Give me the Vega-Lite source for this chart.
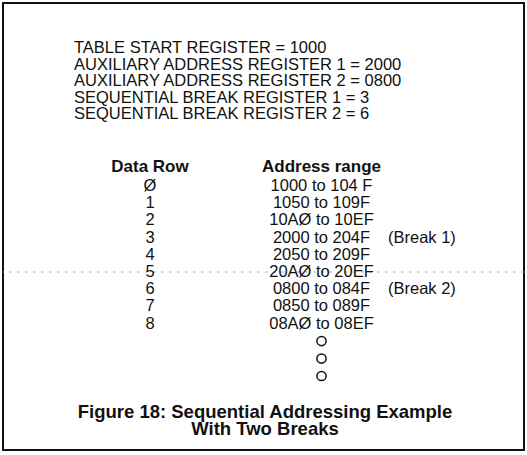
{
  "$schema": "https://vega.github.io/schema/vega-lite/v6.json",
  "width": 527,
  "height": 455,
  "autosize": {"type": "fit", "contains": "padding"},
  "padding": {"left": 2, "top": 3, "right": 2, "bottom": 5},
  "background": "white",
  "config": {
    "view": {"stroke": "#111", "strokeWidth": 2},
    "text": {"font": "Liberation Sans", "color": "#111"}
  },
  "data": {
    "values": [
      {"col": "reg", "tab": 0, "line": 0, "text": "TABLE START REGISTER = 1000"},
      {"col": "reg", "tab": 0, "line": 1, "text": "AUXILIARY ADDRESS REGISTER 1 = 2000"},
      {"col": "reg", "tab": 0, "line": 2, "text": "AUXILIARY ADDRESS REGISTER 2 = 0800"},
      {"col": "reg", "tab": 0, "line": 3, "text": "SEQUENTIAL BREAK REGISTER 1 = 3"},
      {"col": "reg", "tab": 0, "line": 4, "text": "SEQUENTIAL BREAK REGISTER 2 = 6"},
      {"col": "head", "tab": 1, "line": 5, "text": "Data Row"},
      {"col": "head", "tab": 3, "line": 5, "text": "Address range"},
      {"col": "row", "tab": 1, "line": 6, "text": "Ø"},
      {"col": "row", "tab": 1, "line": 7, "text": "1"},
      {"col": "row", "tab": 1, "line": 8, "text": "2"},
      {"col": "row", "tab": 1, "line": 9, "text": "3"},
      {"col": "row", "tab": 1, "line": 10, "text": "4"},
      {"col": "row", "tab": 1, "line": 11, "text": "5"},
      {"col": "row", "tab": 1, "line": 12, "text": "6"},
      {"col": "row", "tab": 1, "line": 13, "text": "7"},
      {"col": "row", "tab": 1, "line": 14, "text": "8"},
      {"col": "range", "tab": 3, "line": 6, "text": "1000 to 104 F"},
      {"col": "range", "tab": 3, "line": 7, "text": "1050 to 109F"},
      {"col": "range", "tab": 3, "line": 8, "text": "10AØ to 10EF"},
      {"col": "range", "tab": 3, "line": 9, "text": "2000 to 204F"},
      {"col": "range", "tab": 3, "line": 10, "text": "2050 to 209F"},
      {"col": "range", "tab": 3, "line": 11, "text": "20AØ to 20EF"},
      {"col": "range", "tab": 3, "line": 12, "text": "0800 to 084F"},
      {"col": "range", "tab": 3, "line": 13, "text": "0850 to 089F"},
      {"col": "range", "tab": 3, "line": 14, "text": "08AØ to 08EF"},
      {"col": "note", "tab": 4, "line": 9, "text": "(Break 1)"},
      {"col": "note", "tab": 4, "line": 12, "text": "(Break 2)"},
      {"col": "more", "tab": 3, "line": 15, "text": "○"},
      {"col": "more", "tab": 3, "line": 16, "text": "○"},
      {"col": "more", "tab": 3, "line": 17, "text": "○"},
      {"col": "caption", "tab": 2, "line": 18, "text": "Figure 18: Sequential Addressing Example"},
      {"col": "caption", "tab": 2, "line": 19, "text": "With Two Breaks"},
      {"col": "fold", "tab": 0, "line": 11, "text": ""}
    ]
  },
  "layer": [
    {
      "transform": [{"filter": "datum.col === 'fold'"}],
      "mark": {"type": "rule", "strokeDash": [3, 5], "color": "#b4b4b4", "strokeWidth": 1},
      "encoding": {
        "y": {"field": "line", "type": "quantitative", "axis": null,
          "scale": {"domain": [0, 4, 5, 6, 14, 17, 18, 19], "range": [45, 111, 164, 183, 320.6, 373, 409, 425.5], "zero": false, "nice": false}}
      }
    },
    {
      "transform": [{"filter": "datum.col === 'reg'"}],
      "mark": {"type": "text", "align": "left", "baseline": "middle", "fontSize": 16.5},
      "encoding": {
        "x": {"field": "tab", "type": "quantitative", "axis": null,
          "scale": {"domain": [0, 1, 2, 3, 4], "range": [71, 147, 262, 318.5, 385], "zero": false, "nice": false}},
        "y": {"field": "line", "type": "quantitative", "axis": null,
          "scale": {"domain": [0, 4, 5, 6, 14, 17, 18, 19], "range": [45, 111, 164, 183, 320.6, 373, 409, 425.5], "zero": false, "nice": false}},
        "text": {"field": "text"}
      }
    },
    {
      "transform": [{"filter": "datum.col === 'head'"}],
      "mark": {"type": "text", "align": "center", "baseline": "middle", "fontSize": 17, "fontWeight": "bold"},
      "encoding": {
        "x": {"field": "tab", "type": "quantitative", "axis": null,
          "scale": {"domain": [0, 1, 2, 3, 4], "range": [71, 147, 262, 318.5, 385], "zero": false, "nice": false}},
        "y": {"field": "line", "type": "quantitative", "axis": null,
          "scale": {"domain": [0, 4, 5, 6, 14, 17, 18, 19], "range": [45, 111, 164, 183, 320.6, 373, 409, 425.5], "zero": false, "nice": false}},
        "text": {"field": "text"}
      }
    },
    {
      "transform": [{"filter": "datum.col === 'row' || datum.col === 'range'"}],
      "mark": {"type": "text", "align": "center", "baseline": "middle", "fontSize": 16.5},
      "encoding": {
        "x": {"field": "tab", "type": "quantitative", "axis": null,
          "scale": {"domain": [0, 1, 2, 3, 4], "range": [71, 147, 262, 318.5, 385], "zero": false, "nice": false}},
        "y": {"field": "line", "type": "quantitative", "axis": null,
          "scale": {"domain": [0, 4, 5, 6, 14, 17, 18, 19], "range": [45, 111, 164, 183, 320.6, 373, 409, 425.5], "zero": false, "nice": false}},
        "text": {"field": "text"}
      }
    },
    {
      "transform": [{"filter": "datum.col === 'note'"}],
      "mark": {"type": "text", "align": "left", "baseline": "middle", "fontSize": 16.5},
      "encoding": {
        "x": {"field": "tab", "type": "quantitative", "axis": null,
          "scale": {"domain": [0, 1, 2, 3, 4], "range": [71, 147, 262, 318.5, 385], "zero": false, "nice": false}},
        "y": {"field": "line", "type": "quantitative", "axis": null,
          "scale": {"domain": [0, 4, 5, 6, 14, 17, 18, 19], "range": [45, 111, 164, 183, 320.6, 373, 409, 425.5], "zero": false, "nice": false}},
        "text": {"field": "text"}
      }
    },
    {
      "transform": [{"filter": "datum.col === 'more'"}],
      "mark": {"type": "point", "shape": "circle", "filled": false, "size": 85, "color": "#111", "strokeWidth": 1.5, "opacity": 1},
      "encoding": {
        "x": {"field": "tab", "type": "quantitative", "axis": null,
          "scale": {"domain": [0, 1, 2, 3, 4], "range": [71, 147, 262, 318.5, 385], "zero": false, "nice": false}},
        "y": {"field": "line", "type": "quantitative", "axis": null,
          "scale": {"domain": [0, 4, 5, 6, 14, 17, 18, 19], "range": [45, 111, 164, 183, 320.6, 373, 409, 425.5], "zero": false, "nice": false}}
      }
    },
    {
      "transform": [{"filter": "datum.col === 'caption'"}],
      "mark": {"type": "text", "align": "center", "baseline": "middle", "fontSize": 18.5, "fontWeight": "bold"},
      "encoding": {
        "x": {"field": "tab", "type": "quantitative", "axis": null,
          "scale": {"domain": [0, 1, 2, 3, 4], "range": [71, 147, 262, 318.5, 385], "zero": false, "nice": false}},
        "y": {"field": "line", "type": "quantitative", "axis": null,
          "scale": {"domain": [0, 4, 5, 6, 14, 17, 18, 19], "range": [45, 111, 164, 183, 320.6, 373, 409, 425.5], "zero": false, "nice": false}},
        "text": {"field": "text"}
      }
    }
  ]
}
